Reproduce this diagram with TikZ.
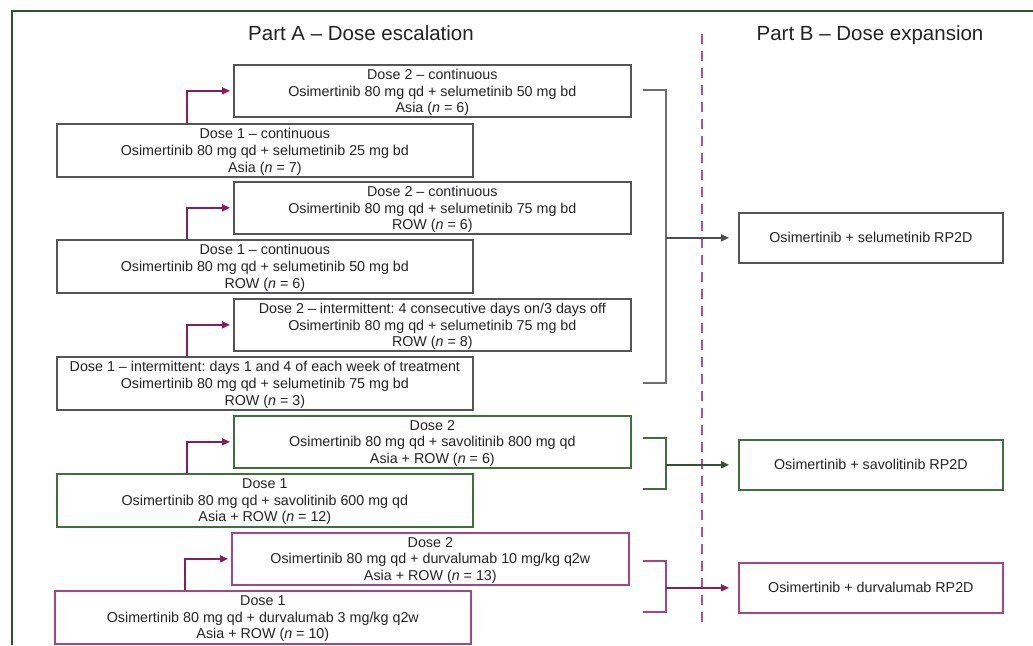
\documentclass[tikz,border=0pt]{standalone}
\usepackage{fontspec}
\setmainfont{Liberation Sans}
\usetikzlibrary{arrows.meta,calc}
\frenchspacing
\definecolor{framegreen}{RGB}{45,85,45}
\definecolor{boxgray}{RGB}{85,85,88}
\definecolor{bracketgray}{RGB}{110,110,115}
\definecolor{savgreen}{RGB}{65,110,65}
\definecolor{durvpurple}{RGB}{165,70,130}
\definecolor{elbowpurple}{RGB}{135,30,90}
\definecolor{dashpink}{RGB}{180,80,140}
\definecolor{textdark}{RGB}{35,35,35}
\begin{document}
\begin{tikzpicture}[x=1pt,y=-1pt,
  every node/.style={text=textdark,font=\fontsize{14.3}{16.6}\selectfont},
  dosebox/.style={draw,line width=1.7pt,rectangle,inner sep=0pt,align=center,anchor=north west,text depth=0pt},
  wide/.style={minimum width=397pt,minimum height=52pt},
  narrow/.style={minimum width=416pt,minimum height=53pt},
  rpbox/.style={draw,line width=1.7pt,rectangle,inner sep=0pt,align=center,anchor=north west,minimum width=264pt,minimum height=50pt},
  elbow/.style={draw=elbowpurple,line width=1.6pt,-{Triangle[length=8pt,width=7pt]},shorten >=3pt},
  bracket/.style={line width=1.8pt},
  feed/.style={line width=1.6pt,-{Triangle[length=8pt,width=7pt]},shorten >=9pt},
  title/.style={font=\fontsize{20.5}{24}\selectfont,anchor=base,inner sep=0pt}
]
\useasboundingbox (0,0) rectangle (1033,645);

% outer frame (top and left edges only)
\draw[framegreen,line width=2.2pt] (12,645) -- (12,11) -- (1033,11);

% headings
\node[title] (partA) at (361,40) {Part A – Dose escalation};
\node[title] (partB) at (870,40) {Part B – Dose expansion};

% divider between the two parts
\coordinate (divTop) at (702,34);
\coordinate (divBot) at (702,622);
\draw[dashpink,line width=1.6pt,dash pattern=on 10pt off 7pt] (divTop) -- (divBot);

% osimertinib + selumetinib arms
\node[dosebox,wide,draw=boxgray] (sA2) at (233,64)
  {Dose 2 – continuous\\Osimertinib 80 mg qd + selumetinib 50 mg bd\\Asia (\textit{n} = 6)};
\node[dosebox,narrow,draw=boxgray] (sA1) at (56,123)
  {Dose 1 – continuous\\Osimertinib 80 mg qd + selumetinib 25 mg bd\\Asia (\textit{n} = 7)};
\node[dosebox,wide,draw=boxgray] (sB2) at (233,181)
  {Dose 2 – continuous\\Osimertinib 80 mg qd + selumetinib 75 mg bd\\ROW (\textit{n} = 6)};
\node[dosebox,narrow,draw=boxgray] (sB1) at (56,239)
  {Dose 1 – continuous\\Osimertinib 80 mg qd + selumetinib 50 mg bd\\ROW (\textit{n} = 6)};
\node[dosebox,wide,draw=boxgray] (sC2) at (233,298)
  {Dose 2 – intermittent: 4 consecutive days on/3 days off\\Osimertinib 80 mg qd + selumetinib 75 mg bd\\ROW (\textit{n} = 8)};
\node[dosebox,narrow,draw=boxgray] (sC1) at (56,356)
  {Dose 1 – intermittent: days 1 and 4 of each week of treatment\\Osimertinib 80 mg qd + selumetinib 75 mg bd\\ROW (\textit{n} = 3)};

% osimertinib + savolitinib arm
\node[dosebox,wide,draw=savgreen] (v2) at (233,415)
  {Dose 2\\Osimertinib 80 mg qd + savolitinib 800 mg qd\\Asia + ROW (\textit{n} = 6)};
\node[dosebox,narrow,draw=savgreen] (v1) at (56,473)
  {Dose 1\\Osimertinib 80 mg qd + savolitinib 600 mg qd\\Asia + ROW (\textit{n} = 12)};

% osimertinib + durvalumab arm
\node[dosebox,wide,draw=durvpurple] (d2) at (231,532)
  {Dose 2\\Osimertinib 80 mg qd + durvalumab 10 mg/kg q2w\\Asia + ROW (\textit{n} = 13)};
\node[dosebox,narrow,draw=durvpurple] (d1) at (54,590)
  {Dose 1\\Osimertinib 80 mg qd + durvalumab 3 mg/kg q2w\\Asia + ROW (\textit{n} = 10)};

% expansion cohorts
\node[rpbox,draw=boxgray] (selRP) at (738,212) {Osimertinib + selumetinib RP2D};
\node[rpbox,draw=savgreen] (savRP) at (738,439) {Osimertinib + savolitinib RP2D};
\node[rpbox,draw=durvpurple] (durRP) at (738,562) {Osimertinib + durvalumab RP2D};

% escalation steps from dose 1 to dose 2
\foreach \lo/\hi in {sA1/sA2,sB1/sB2,sC1/sC2,v1/v2,d1/d2}{
  \draw[elbow] ($(\lo.north west)+(131,0)$) |- (\hi.west);
}

% brackets collecting each arm into its expansion cohort
\coordinate (selTop) at (643,90);
\coordinate (selBot) at (643,383);
\coordinate (selBar) at (666,90);
\draw[bracket,bracketgray] (selTop) -- (selBar) |- (selBot);
\draw[feed,bracketgray!70!black] (selBar |- selRP.west) -- (selRP.west);

\coordinate (savTop) at (643,438);
\coordinate (savBot) at (643,489);
\coordinate (savBar) at (666,438);
\draw[bracket,savgreen] (savTop) -- (savBar) |- (savBot);
\draw[feed,savgreen!75!black] (savBar |- savRP.west) -- (savRP.west);

\coordinate (durTop) at (643,561);
\coordinate (durBot) at (643,612);
\coordinate (durBar) at (666,561);
\draw[bracket,durvpurple] (durTop) -- (durBar) |- (durBot);
\draw[feed,elbowpurple] (durBar |- durRP.west) -- (durRP.west);
\end{tikzpicture}
\end{document}
